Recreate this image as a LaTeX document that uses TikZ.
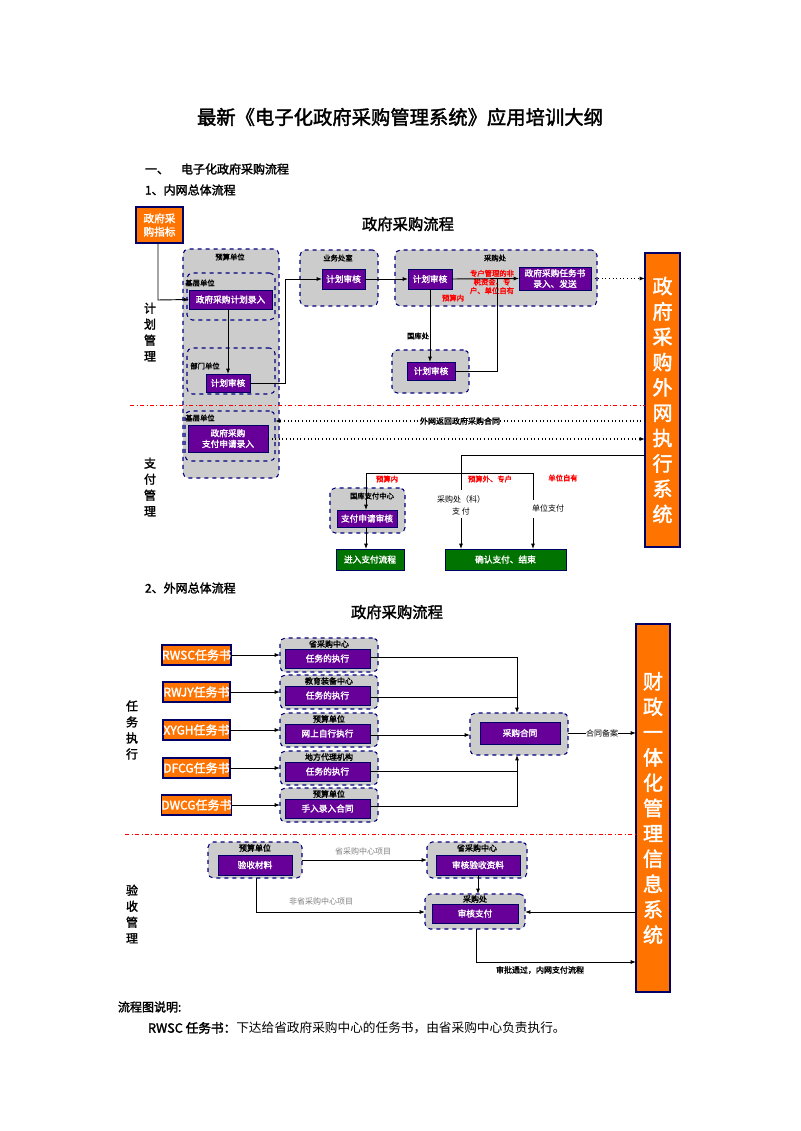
\documentclass[tikz,border=0pt]{standalone}
\usepackage{fontspec}
\setmainfont{Noto Sans CJK SC}[AutoFakeBold=2]
\usetikzlibrary{arrows.meta}
\begin{document}
\begin{tikzpicture}[x=0.75pt,y=-0.75pt,
  every node/.style={inner sep=0pt,outer sep=0pt},
  grp/.style={draw=blue!50!black,dashed,fill=gray!40,rounded corners=4pt,line width=0.8pt},
  pbox/.style={draw=blue!40!black,fill=violet!80!blue,text=white,font=\bfseries\fontsize{6.5}{8}\selectfont,align=center,line width=0.6pt},
  obox/.style={draw=blue!40!black,fill=orange!90!red,text=white,font=\bfseries\fontsize{9}{10}\selectfont,align=center,line width=0.8pt},
  gbox/.style={draw=blue!40!black,fill=green!45!black,text=white,font=\bfseries\fontsize{6.5}{8}\selectfont,align=center},
  side/.style={draw=blue!40!black,fill=orange!90!red,text=white,font=\bfseries\fontsize{15}{19}\selectfont,align=center,line width=0.8pt},
  lab/.style={font=\bfseries\fontsize{5.5}{6.5}\selectfont},
  red/.style={text=red,font=\bfseries\fontsize{5.5}{6.5}\selectfont,align=center},
  gl/.style={text=gray,font=\fontsize{6}{7}\selectfont},
  vt/.style={font=\bfseries\fontsize{9}{12}\selectfont,align=center},
  ar/.style={-{Latex[length=4pt,width=3pt]},line width=0.7pt},
  dar/.style={ar,dotted,line width=0.9pt},
  dd/.style={draw=red,dash dot,line width=0.7pt}]
\newcommand\mkbox[7]{\node[#6,minimum width={((#4)-(#2))*0.75pt},minimum height={((#5)-(#3))*0.75pt}] (#1) at ({((#2)+(#4))/2},{((#3)+(#5))/2}) {#7};}
\useasboundingbox (0,0) rectangle (800,1131);
\fill[white] (0,0) rectangle (800,1131);
\node[font=\bfseries\fontsize{14.5}{16}\selectfont] (t0) at (400,117) {最新《电子化政府采购管理系统》应用培训大纲};
\node[anchor=west,font=\bfseries\fontsize{9}{11}\selectfont] (h1) at (145,169) {一、\quad 电子化政府采购流程};
\node[anchor=west,font=\bfseries\fontsize{9}{11}\selectfont] (h2) at (145,190) {1、内网总体流程};
\node[font=\bfseries\fontsize{11.5}{13}\selectfont] (t1) at (408,224) {政府采购流程};
% part 1
\mkbox{zb}{136}{207}{183}{243}{obox,font=\bfseries\fontsize{8}{10}\selectfont}{政府采\\购指标}
\mkbox{g1}{183}{249}{279}{478}{grp}{}
\node[lab] (g1l) at (230,257) {预算单位};
\mkbox{g1a}{187}{273}{275}{320}{grp}{}
\node[lab] (g1al) at (200,283) {基层单位};
\mkbox{b1}{189}{290}{272}{309}{pbox}{政府采购计划录入}
\mkbox{g1b}{187}{348}{275}{394}{grp}{}
\node[lab] (g1bl) at (205,366) {部门单位};
\mkbox{b2}{206}{374}{250}{392}{pbox}{计划审核}
\mkbox{g2}{300}{250}{378}{306}{grp}{}
\node[lab] (g2l) at (338,258) {业务处室};
\mkbox{b3}{322}{269}{365}{289}{pbox}{计划审核}
\mkbox{g3}{395}{250}{597}{306}{grp}{}
\node[lab] (g3l) at (495,258) {采购处};
\mkbox{b4}{408}{269}{452}{289}{pbox}{计划审核}
\mkbox{b5}{519}{267}{591}{290}{pbox}{政府采购任务书\\录入、发送}
\node[red] (r1) at (492,282) {专户管理的非\\税资金、专\\户、单位自有};
\node[red] (r2) at (453,298) {预算内};
\node[lab] (gkl) at (418,336) {国库处};
\mkbox{g4}{392}{350}{469}{393}{grp}{}
\mkbox{b6}{407}{362}{455}{380}{pbox}{计划审核}
\mkbox{s1}{645}{253}{680}{547}{side}{政\\府\\采\\购\\外\\网\\执\\行\\系\\统}
\coordinate (c1) at (158,300);
\draw[ar] (zb.south -| c1) -- (c1) -- (b1.west);
\draw[ar] (b1.south -| 228,0) -- (b2.north -| 228,0);
\draw[ar] (b2.east) -- (285,383) -- (285,279) -- (b3.west);
\draw[ar] (b3.east) -- (b4.west);
\draw[ar] (b4.east) -- (b5.west);
\draw[ar] (b4.south -| 430,0) -- (b6.north -| 430,0);
\draw[line width=0.7pt] (b6.east) -- (497,371) -- (497,279);
\draw[dar] (b5.east) -- (s1.west |- b5.east);
\draw[dd] (130,405) -- (645,405);
\node[vt] (v1) at (150,332) {计\\划\\管\\理};
\node[vt] (v2) at (150,487) {支\\付\\管\\理};
\mkbox{g5}{185}{411}{275}{461}{grp}{}
\node[lab] (g5l) at (200,418) {基层单位};
\mkbox{b7}{188}{425}{268}{452}{pbox}{政府采购\\支付申请录入}
\draw[dar] (s1.west |- 0,421) -- (g5.east |- 0,421) node[midway,fill=white,lab,font=\bfseries\fontsize{6}{7}\selectfont] (fl) {外网返回政府采购合同};
\draw[dar] (b7.east |- 0,439) -- (s1.west |- 0,439);
\mkbox{g6}{330}{488}{405}{533}{grp}{}
\node[lab,fill=gray!40] (g6l) at (372,496) {国库支付中心};
\mkbox{b8}{337}{510}{397}{527}{pbox}{支付申请审核}
\mkbox{gr1}{336}{549}{404}{570}{gbox}{进入支付流程}
\mkbox{gr2}{445}{549}{566}{570}{gbox}{确认支付、结束}
\node[lab,align=center,font=\fontsize{6}{9}\selectfont] (pk) at (461,505) {采购处（科）\\支 付};
\node[lab,font=\fontsize{6}{7}\selectfont] (dw) at (548,508) {单位支付};
\draw[line width=0.7pt] (s1.west |- 0,455) -- (461,455) -- (461,490);
\draw[line width=0.7pt] (366,473) -- (533,473) -- (533,500);
\draw[ar] (366,473) -- (b8.north -| 366,0);
\draw[ar] (461,518) -- (gr2.north -| 461,0);
\draw[ar] (533,518) -- (gr2.north -| 533,0);
\draw[ar] (b8.south -| 366,0) -- (gr1.north -| 366,0);
\node[red] (r3) at (387,479) {预算内};
\node[red] (r4) at (490,479) {预算外、专户};
\node[red] (r5) at (563,478) {单位自有};
% part 2
\node[anchor=west,font=\bfseries\fontsize{9}{11}\selectfont] (h3) at (145,588) {2、外网总体流程};
\node[font=\bfseries\fontsize{11.5}{13}\selectfont] (t2) at (397,612) {政府采购流程};
\mkbox{s2}{636}{624}{670}{992}{side}{财\\政\\一\\体\\化\\管\\理\\信\\息\\系\\统}
\foreach \n/\t/\y/\gl/\bt in {1/RWSC/655/省采购中心/任务的执行,2/RWJY/692/教育装备中心/任务的执行,3/XYGH/730/预算单位/网上自行执行,4/DFCG/768/地方代理机构/任务的执行,5/DWCG/805/预算单位/手入录入合同}{
  \mkbox{o\n}{163}{\y-10}{230}{\y+10}{obox}{\t 任务书}
  \mkbox{gg\n}{280}{\y-17}{378}{\y+17}{grp}{}
  \node[lab,font=\bfseries\fontsize{6}{7}\selectfont] (ggl\n) at (329,\y-11) {\gl};
  \mkbox{pb\n}{285}{\y-6}{370}{\y+13}{pbox}{\bt}
  \draw[ar] (o\n.east) -- (gg\n.west |- o\n.east);
}
\mkbox{gh}{470}{713}{568}{755}{grp}{}
\mkbox{ht}{480}{722}{560}{744}{pbox}{采购合同}
\draw[ar] (pb1.east |- 0,657) -- (517,657) -- (gh.north -| 517,0);
\draw[line width=0.7pt] (pb2.east |- 0,697) -- (517,697);
\draw[ar] (pb3.east |- 0,735) -- (gh.west |- 0,735);
\draw[ar] (pb5.east |- 0,806) -- (517,806) -- (gh.south -| 517,0);
\draw[line width=0.7pt] (pb4.east |- 0,771) -- (517,771);
\draw[ar] (gh.east |- 0,733) -- (s2.west |- 0,733) node[midway,fill=white,font=\fontsize{6}{7}\selectfont] (hb) {合同备案};
\draw[dd] (125,834) -- (636,834);
\node[vt] (v3) at (132,730) {任\\务\\执\\行};
\node[vt] (v4) at (132,914) {验\\收\\管\\理};
\mkbox{ga}{208}{842}{302}{878}{grp}{}
\node[lab,font=\bfseries\fontsize{6}{7}\selectfont] (gal) at (255,848) {预算单位};
\mkbox{ya}{218}{855}{292}{875}{pbox}{验收材料}
\mkbox{gb}{427}{842}{527}{878}{grp}{}
\node[lab,font=\bfseries\fontsize{6}{7}\selectfont] (gbl) at (477,848) {省采购中心};
\mkbox{sh}{436}{855}{520}{875}{pbox}{审核验收资料}
\mkbox{gc}{425}{894}{525}{929}{grp}{}
\node[lab,font=\bfseries\fontsize{6}{7}\selectfont] (gcl) at (475,899) {采购处};
\mkbox{zf}{432}{904}{518}{923}{pbox}{审核支付}
\draw[ar] (ga.east |- 0,860) -- (gb.west |- 0,860);
\node[gl] (gl1) at (363,851) {省采购中心项目};
\draw[ar] (sh.south -| 478,0) -- (gc.north -| 478,0);
\draw[ar] (ga.south -| 256,0) -- (256,912) -- (gc.west |- 0,912);
\node[gl] (gl2) at (321,901) {非省采购中心项目};
\draw[ar] (s2.west |- 0,912) -- (gc.east |- 0,912);
\draw[ar] (gc.south -| 476,0) -- (476,962) -- (s2.west |- 0,962);
\node[lab,font=\bfseries\fontsize{6}{7}\selectfont] (sp) at (540,970) {审批通过，内网支付流程};
\node[anchor=west,font=\bfseries\fontsize{9}{11}\selectfont] (f1) at (118,1007) {流程图说明:};
\node[anchor=west,font=\fontsize{9.5}{11}\selectfont] (f2) at (148,1028) {\textbf{RWSC 任务书：}下达给省政府采购中心的任务书，由省采购中心负责执行。};
\end{tikzpicture}
\end{document}
